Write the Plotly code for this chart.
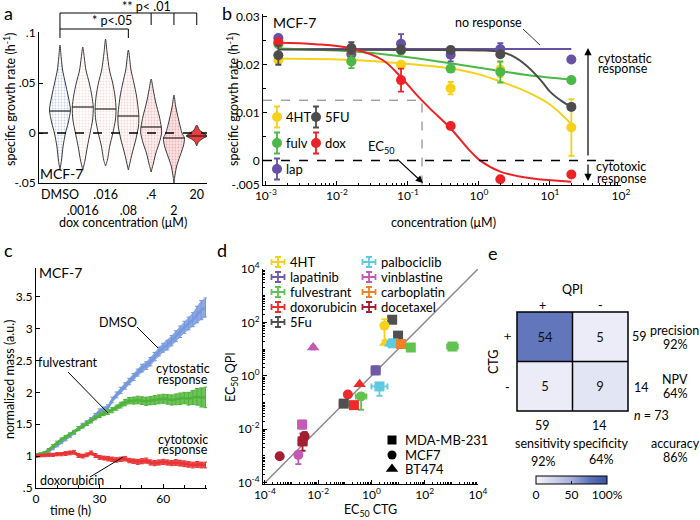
import numpy as np
import plotly.graph_objects as go

W, H = 700, 520
FONT = 'Lato'
FS = 12


def px(x):
    return x / W


def py(y):
    return 1 - y / H


# ======================= DATA =======================
# ---- panel a: violin profiles of growth rate vs dox concentration ----
a_labels = ['DMSO', '.0016', '.016', '.08', '.4', '2', '20']
a_levels = [
    [0.088, 0.075, 0.063, 0.05, 0.037, 0.023, 0.01, 0.0, -0.013, -0.027, -0.037],
    [0.086, 0.075, 0.063, 0.05, 0.037, 0.026, 0.013, 0.0, -0.013, -0.027, -0.037],
    [0.094, 0.08, 0.063, 0.05, 0.037, 0.024, 0.013, 0.0, -0.013, -0.027, -0.033],
    [0.083, 0.063, 0.05, 0.037, 0.025, 0.017, 0.007, -0.007, -0.02, -0.03, -0.037],
    [0.054, 0.043, 0.03, 0.017, 0.006, 0.0, -0.01, -0.02, -0.03, -0.039],
    [0.038, 0.027, 0.013, 0.0, -0.005, -0.013, -0.023, -0.033, -0.042, -0.05],
    [0.008, 0.003, -0.002, -0.003, -0.006, -0.009, -0.013],
]
a_density = [
    [0, 0.12, 0.25, 0.51, 0.78, 1.0, 0.78, 0.53, 0.3, 0.15, 0],
    [0, 0.15, 0.3, 0.62, 0.87, 1.0, 0.94, 0.7, 0.45, 0.22, 0],
    [0, 0.15, 0.37, 0.68, 0.9, 1.0, 0.94, 0.7, 0.4, 0.18, 0],
    [0, 0.25, 0.53, 0.78, 0.93, 1.0, 0.97, 0.7, 0.37, 0.15, 0],
    [0, 0.2, 0.45, 0.77, 0.97, 1.0, 0.77, 0.45, 0.22, 0],
    [0, 0.16, 0.45, 0.77, 1.0, 0.9, 0.58, 0.26, 0.1, 0],
    [0, 0.26, 0.9, 1.0, 0.5, 0.16, 0],
]
a_median = [0.022, 0.026, 0.024, 0.017, 0.006, -0.005, -0.003]

# ---- panel b: dose response (MCF-7) ----
b_conc = [0.0015, 0.016, 0.08, 0.4, 2, 20]
b_4ht = [0.0210, 0.0207, 0.0200, 0.0151, 0.0190, 0.0069]
b_4ht_err = [0.0005, 0.0005, 0.0005, 0.0013, 0.0015, 0.0059]
b_5fu = [0.0220, 0.0235, 0.0232, 0.0231, 0.0222, 0.0112]
b_5fu_err = [0.0020, 0.0012, 0.0008, 0.0006, 0.0005, 0.0005]
b_fulv = [0.0243, 0.0207, 0.0230, 0.0192, 0.0185, 0.0168]
b_fulv_err = [0.0005, 0.0014, 0.0005, 0.0006, 0.0022, 0.0004]
b_dox = [0.0247, 0.0232, 0.0168, 0.0072, -0.0039, -0.0029]
b_dox_err = [0.0006, 0.0005, 0.0024, 0.0004, 0.0003, 0.0003]
b_lap = [0.0256, 0.0222, 0.0244, 0.0221, 0.0233, 0.0211]
b_lap_err = [0.0006, 0.0010, 0.0020, 0.0014, 0.0012, 0.0004]
# fitted curves
fit_4ht_x = [0.0015, 0.016, 0.08, 0.4, 1, 2, 5, 10, 20]
fit_4ht_y = [0.0213, 0.0210, 0.0203, 0.0192, 0.0180, 0.0165, 0.0142, 0.0117, 0.0076]
fit_5fu_x = [0.0015, 0.1, 1, 2, 3, 4.6, 7.4, 10, 15, 20]
fit_5fu_y = [0.0232, 0.0231, 0.0230, 0.0227, 0.0218, 0.0199, 0.0168, 0.0144, 0.0123, 0.0112]
fit_fulv_x = [0.0015, 0.004, 0.016, 0.08, 0.4, 2, 5, 20]
fit_fulv_y = [0.0234, 0.0232, 0.0228, 0.0218, 0.0203, 0.0187, 0.0178, 0.0169]
fit_dox_x = [0.0015, 0.005, 0.016, 0.044, 0.08, 0.133, 0.2, 0.4, 0.7, 1.0, 2, 5.4, 20]
fit_dox_y = [0.0246, 0.0243, 0.0234, 0.0210, 0.0174, 0.0137, 0.0110, 0.0067, 0.0025, 0.0002,
             -0.0023, -0.0037, -0.0044]
fit_lap_x = [0.0015, 20]
fit_lap_y = [0.0233, 0.0233]
b_ec50_conc = 0.158
b_ec50_rate = 0.0126

# ---- panel c: normalized mass vs time ----
c_time = list(range(0, 81, 2))
c_dmso = [1.00, 1.01, 1.04, 1.08, 1.12, 1.17, 1.22, 1.27, 1.32, 1.37, 1.43, 1.48, 1.52, 1.57,
          1.63, 1.70, 1.73, 1.76, 1.88, 1.96, 2.03, 2.10, 2.17, 2.24, 2.31, 2.38, 2.42, 2.48,
          2.56, 2.64, 2.70, 2.74, 2.81, 2.88, 2.95, 3.02, 3.08, 3.14, 3.22, 3.29, 3.33]
c_dmso_err = [0.02, 0.02, 0.02, 0.02, 0.02, 0.025, 0.025, 0.03, 0.03, 0.03, 0.03, 0.035, 0.035,
              0.035, 0.04, 0.04, 0.04, 0.045, 0.045, 0.045, 0.05, 0.05, 0.05, 0.055, 0.055, 0.06,
              0.06, 0.065, 0.065, 0.07, 0.07, 0.075, 0.08, 0.085, 0.09, 0.095, 0.10, 0.11, 0.13,
              0.15, 0.15]
c_fulv = [1.02, 1.03, 1.05, 1.10, 1.16, 1.21, 1.26, 1.30, 1.34, 1.38, 1.43, 1.47, 1.51, 1.55,
          1.60, 1.64, 1.67, 1.69, 1.72, 1.76, 1.80, 1.84, 1.87, 1.87, 1.88, 1.87, 1.86, 1.87,
          1.88, 1.89, 1.90, 1.89, 1.88, 1.89, 1.90, 1.91, 1.90, 1.92, 1.93, 1.92, 1.92]
c_fulv_err = [0.02, 0.02, 0.02, 0.02, 0.02, 0.025, 0.025, 0.025, 0.025, 0.025, 0.03, 0.03, 0.03,
              0.03, 0.03, 0.035, 0.035, 0.035, 0.04, 0.04, 0.045, 0.05, 0.05, 0.055, 0.06, 0.06,
              0.065, 0.065, 0.07, 0.07, 0.07, 0.075, 0.08, 0.085, 0.09, 0.09, 0.10, 0.11, 0.13,
              0.15, 0.16]
c_dox = [1.00, 1.01, 1.01, 1.02, 1.02, 1.03, 1.03, 1.04, 1.05, 1.06, 1.01, 1.00, 1.02, 1.05,
         1.01, 0.98, 0.97, 0.96, 0.95, 0.94, 0.95, 0.96, 0.93, 0.92, 0.91, 0.92, 0.93, 0.90,
         0.89, 0.90, 0.91, 0.90, 0.89, 0.90, 0.89, 0.88, 0.87, 0.86, 0.87, 0.86, 0.86]
c_dox_err = [0.02, 0.02, 0.02, 0.025, 0.025, 0.025, 0.025, 0.03, 0.03, 0.03, 0.03, 0.03, 0.03,
             0.03, 0.03, 0.03, 0.03, 0.035, 0.035, 0.035, 0.035, 0.035, 0.035, 0.035, 0.04,
             0.04, 0.04, 0.04, 0.04, 0.04, 0.04, 0.04, 0.04, 0.045, 0.045, 0.045, 0.045, 0.045,
             0.045, 0.045, 0.045]

# ---- panel d: EC50 QPI vs EC50 CTG ----
d_drug = ['5Fu', '4HT', '4HT', '5Fu', 'palbociclib', 'palbociclib', 'carboplatin', 'fulvestrant',
          'fulvestrant', 'vinblastine', 'lapatinib', 'palbociclib', 'doxorubicin', 'doxorubicin',
          'fulvestrant', 'doxorubicin', '5Fu', 'vinblastine', 'docetaxel', 'docetaxel',
          'docetaxel', 'vinblastine']
d_cell = ['MDA-MB-231', 'MCF7', 'BT474', 'MDA-MB-231', 'BT474', 'MDA-MB-231', 'MDA-MB-231',
          'MDA-MB-231', 'MDA-MB-231', 'BT474', 'MDA-MB-231', 'MDA-MB-231', 'BT474', 'MCF7',
          'MCF7', 'MDA-MB-231', 'MDA-MB-231', 'MDA-MB-231', 'MCF7', 'MDA-MB-231', 'MCF7', 'MCF7']
d_ctg = [6.0, 3.1, 3.3, 10.0, 5.0, 6.5, 13.0, 30.0, 1100.0, 0.0065, 1.44, 2.0, 0.36, 0.13,
         0.41, 0.22, 0.091, 0.0025, 0.0031, 0.0026, 0.00036, 0.0018]
d_qpi = [126.0, 75.0, 17.0, 32.0, 16.0, 16.5, 15.5, 11.5, 12.5, 11.5, 1.6, 0.40, 0.48, 0.20,
         0.17, 0.08, 0.091, 0.015, 0.0055, 0.0035, 0.00098, 0.0011]
d_ex_dec = [0, 0.06, 0, 0.1, 0.1, 0.12, 0.12, 0.1, 0.2, 0.05, 0.15, 0.3, 0, 0, 0.2, 0, 0.15, 0,
            0.1, 0.15, 0, 0]
d_ey_up_dec = [0, 0.25, 0, 0.1, 0.1, 0.1, 0.12, 0.1, 0.1, 0.05, 0.15, 0.1, 0, 0, 0.12, 0, 0.08,
               0.15, 0.15, 0.3, 0, 0.1]
d_ey_dn_dec = [0, 0.55, 0, 0.1, 0.1, 0.1, 0.12, 0.1, 0.1, 0.05, 0.15, 0.35, 0, 0, 0.5, 0, 0.08,
               0.15, 0.15, 0.35, 0, 0.35]

# ---- panel e: confusion matrix (rows CTG +/-, columns QPI +/-) ----
e_labels = ['+', '-']
e_counts = [[54, 5], [5, 9]]

# ======================= STYLES =======================
b_colors = {'4HT': '#f5d11c', '5FU': '#4d4d4d', 'fulv': '#4cb848', 'dox': '#ec2227',
            'lap': '#6651a4'}
d_colors = {'4HT': '#f7d117', 'lapatinib': '#6f5aa8', 'fulvestrant': '#63c14f',
            'doxorubicin': '#ee2a2a', '5Fu': '#505050', 'palbociclib': '#5ccbe2',
            'vinblastine': '#c45ab3', 'carboplatin': '#f48024', 'docetaxel': '#a41e34'}
d_symbols = {'MDA-MB-231': 'square', 'MCF7': 'circle', 'BT474': 'triangle-up'}
a_bg = ['#ffffff', '#ffffff', '#ffffff', '#fffafa', '#fdf0f0', '#fbe4e4', '#ec3d3d']
a_dot = ['#8fa0dc', '#f7c2c2', '#f5b8b8', '#f3adad', '#ef9595', '#eb7878', '#ec3d3d']

fig = go.Figure()

# ---------- axes ----------
base_axis = dict(showline=True, linecolor='black', linewidth=1, ticks='inside', ticklen=4,
                 tickcolor='black', showgrid=False, zeroline=False, mirror=False,
                 automargin=False, tickangle=0,
                 tickfont=dict(family=FONT, size=FS, color='black'))

A_X = (39, 207)
A_Y = (32, 183)
A_RNG = (-0.92, 6.45)
B_X = (263, 621)
B_Y = (14, 184.5)
C_X = (36, 207)
C_Y = (268, 488)
D_X = (263, 478)
D_Y = (269, 484)
E_X = (517, 628)
E_Y = (312, 411)


def dx(r):
    return [px(r[0]), px(r[1])]


def dy(r):
    return [py(r[1]), py(r[0])]


b_major = [1e-3, 1e-2, 1e-1, 1, 10, 100]
b_minor = [m * d for d in b_major[:-1] for m in range(2, 10)]
d_major = [1e-4, 1e-2, 1, 1e2, 1e4]
d_minor = [m * 10.0 ** k for k in range(-4, 4) for m in range(1, 10)
           if not (m == 1 and k % 2 == 0)]

a_ticktext = [lab if i % 2 == 0 else '<br>' + lab for i, lab in enumerate(a_labels)]

hidden = dict(visible=False, automargin=False)
fig.update_layout(
    xaxis=dict(base_axis, domain=dx(A_X), range=list(A_RNG), anchor='y', tickmode='array',
               tickvals=list(range(len(a_labels))), ticktext=a_ticktext, ticks='',
               tickfont=dict(family=FONT, size=12.5, color='black')),
    yaxis=dict(base_axis, domain=dy(A_Y), range=[-0.05, 0.101], anchor='x', tickmode='array',
               tickvals=[-0.05, 0, 0.05, 0.1], ticktext=['-.05', '0', '.05', '.1']),
    xaxis2=dict(base_axis, domain=dx(B_X), type='log', range=[-3.04, 2.0], anchor='y2',
                tickmode='array', tickvals=b_major,
                ticktext=['10<sup>-3</sup>', '10<sup>-2</sup>', '10<sup>-1</sup>',
                          '10<sup>0</sup>', '10<sup>1</sup>', '10<sup>2</sup>'],
                minor=dict(tickvals=b_minor, ticks='inside', ticklen=2, tickcolor='black')),
    yaxis2=dict(base_axis, domain=dy(B_Y), range=[-0.005, 0.0306], anchor='x2',
                tickmode='array', tickvals=[-0.005, 0, 0.01, 0.02, 0.03],
                ticktext=['-.005', '0', '0.01', '0.02', '0.03'],
                minor=dict(tickvals=[0.005, 0.015, 0.025], ticks='inside', ticklen=3,
                           tickcolor='black')),
    xaxis3=dict(base_axis, domain=dx(C_X), range=[0, 80.7], anchor='y3', tickmode='array',
                tickvals=[0, 30, 60],
                minor=dict(tickvals=[10, 20, 40, 50, 70, 80], ticks='inside', ticklen=3,
                           tickcolor='black')),
    yaxis3=dict(base_axis, domain=dy(C_Y), range=[0.5, 3.95], anchor='x3', tickmode='array',
                tickvals=[0.5, 1, 1.5, 2, 2.5, 3, 3.5],
                ticktext=['.5', '1', '1.5', '2', '2.5', '3', '3.5']),
    xaxis4=dict(base_axis, domain=dx(D_X), type='log', range=[-4.07, 4.0], anchor='y4',
                tickmode='array', tickvals=d_major,
                ticktext=['10<sup>-4</sup>', '10<sup>-2</sup>', '10<sup>0</sup>',
                          '10<sup>2</sup>', '10<sup>4</sup>'],
                minor=dict(tickvals=d_minor, ticks='inside', ticklen=2, tickcolor='black')),
    yaxis4=dict(base_axis, domain=dy(D_Y), type='log', range=[-4.05, 4.0], anchor='x4',
                tickmode='array', tickvals=d_major,
                ticktext=['10<sup>-4</sup>', '10<sup>-2</sup>', '10<sup>0</sup>',
                          '10<sup>2</sup>', '10<sup>4</sup>'],
                minor=dict(tickvals=d_minor, ticks='inside', ticklen=2, tickcolor='black')),
    xaxis5=dict(hidden, domain=dx(E_X), range=[-0.5, 1.5], anchor='y5'),
    yaxis5=dict(hidden, domain=dy(E_Y), range=[1.5, -0.5], anchor='x5'),
    xaxis6=dict(hidden, domain=[0, 1], range=[0, 1], anchor='y6'),
    yaxis6=dict(hidden, domain=[0, 1], range=[0, 1], anchor='x6'),
)

# ======================= PANEL A =======================
A_HALF = 0.46
for i in range(len(a_labels)):
    lv = np.array(a_levels[i], dtype=float)
    dn = np.array(a_density[i], dtype=float)
    xs = np.concatenate([i + A_HALF * dn, (i - A_HALF * dn)[::-1]])
    ys = np.concatenate([lv, lv[::-1]])
    fig.add_trace(go.Scatter(
        x=xs, y=ys, xaxis='x', yaxis='y', mode='lines', fill='toself',
        line=dict(color='#3a3a3a', width=1, shape='spline', smoothing=0.7),
        fillcolor=a_bg[i],
        fillpattern=dict(shape='.', bgcolor=a_bg[i], fgcolor=a_dot[i], size=3,
                         solidity=0.3 if i < 6 else 1.0),
        hoverinfo='skip', showlegend=False))
    half = A_HALF * np.interp(a_median[i], lv[::-1], dn[::-1])
    fig.add_trace(go.Scatter(x=[i - half, i + half], y=[a_median[i]] * 2, xaxis='x', yaxis='y',
                             mode='lines', line=dict(color='#222', width=1.2),
                             hoverinfo='skip', showlegend=False))


def a_paper_x(i):
    return px(A_X[0]) + (i - A_RNG[0]) / (A_RNG[1] - A_RNG[0]) * (px(A_X[1]) - px(A_X[0]))


shapes = []
annotations = []


def line(x0, y0, x1, y1, color='black', width=1, dash='solid'):
    shapes.append(dict(type='line', xref='paper', yref='paper', x0=x0, y0=y0, x1=x1, y1=y1,
                       line=dict(color=color, width=width, dash=dash)))


def text(x, y, s, size=FS, angle=0, xanchor='center', color='black'):
    annotations.append(dict(x=px(x), y=py(y), xref='paper', yref='paper', text=s,
                            showarrow=False, textangle=angle, xanchor=xanchor,
                            yanchor='middle', font=dict(family=FONT, size=size, color=color)))


shapes.append(dict(type='line', xref='x domain', yref='y', x0=0, x1=1, y0=0, y1=0,
                   line=dict(color='black', width=1.5, dash='dash')))

# significance brackets
xd, x08, x04, x2, x20 = [a_paper_x(i) for i in (0, 3, 4, 5, 6)]
line(xd, py(13), x20, py(13))
for xx in (x04, x2, x20):
    line(xx, py(13), xx, py(25))
line(xd, py(13), xd, py(38))
line(xd, py(29), x08, py(29))
line(x08, py(29), x08, py(38))
text(146, 7, '** p< .01', size=12.5)
text(112, 21, '* p<.05', size=12.5)
text(61, 174, 'MCF-7', size=14)
text(123, 222, 'dox concentration (μM)', size=12.5)
text(10, 100, 'specific growth rate (h<sup>-1</sup>)', angle=-90, size=12.5)

# ======================= PANEL B =======================
fits = [(fit_4ht_x, fit_4ht_y, '4HT'), (fit_lap_x, fit_lap_y, 'lap'),
        (fit_fulv_x, fit_fulv_y, 'fulv'), (fit_5fu_x, fit_5fu_y, '5FU'),
        (fit_dox_x, fit_dox_y, 'dox')]
for fx, fy, k in fits:
    fig.add_trace(go.Scatter(x=fx, y=fy, xaxis='x2', yaxis='y2', mode='lines',
                             line=dict(color=b_colors[k], width=2, shape='spline', smoothing=1.0),
                             hoverinfo='skip', showlegend=False))

shapes.append(dict(type='line', xref='x2 domain', yref='y2', x0=0, x1=1, y0=0, y1=0,
                   line=dict(color='black', width=1.5, dash='dash')))
shapes.append(dict(type='line', xref='x2 domain', yref='y2', x0=0,
                   x1=(np.log10(b_ec50_conc) + 3.04) / 5.04,
                   y0=b_ec50_rate, y1=b_ec50_rate, line=dict(color='#777', width=1, dash='dash')))
shapes.append(dict(type='line', xref='x2', yref='y2 domain', x0=b_ec50_conc, x1=b_ec50_conc,
                   y0=0, y1=(b_ec50_rate + 0.005) / 0.0356,
                   line=dict(color='#777', width=1, dash='dash')))

series = [(b_4ht, b_4ht_err, '4HT'), (b_lap, b_lap_err, 'lap'), (b_fulv, b_fulv_err, 'fulv'),
          (b_dox, b_dox_err, 'dox'), (b_5fu, b_5fu_err, '5FU')]
for ys, es, k in series:
    fig.add_trace(go.Scatter(x=b_conc, y=ys, xaxis='x2', yaxis='y2', mode='markers',
                             marker=dict(color=b_colors[k], size=10),
                             error_y=dict(type='data', array=es, color=b_colors[k],
                                          thickness=1.8, width=3),
                             hoverinfo='skip', showlegend=False))

# legend glyphs (panel b)
b_leg = [('4HT', 277, 117), ('5FU', 316, 117), ('fulv', 277, 143), ('dox', 316, 143),
         ('lap', 277, 169)]
for k, lx, ly in b_leg:
    fig.add_trace(go.Scatter(x=[px(lx)], y=[py(ly)], xaxis='x6', yaxis='y6', mode='markers',
                             marker=dict(color=b_colors[k], size=10),
                             error_y=dict(type='data', array=[10.5 / H], color=b_colors[k],
                                          thickness=1.8, width=3),
                             hoverinfo='skip', showlegend=False))
    text(lx + 7, ly, k, xanchor='left', size=13)

text(294, 23, 'MCF-7', size=14)
text(488, 23, 'no response', size=12.5)
line(px(523), py(29), px(540), py(45), width=0.8)
text(625, 58, 'cytostatic', size=12.5)
text(623, 69, 'response', size=12.5)
text(621, 167, 'cytotoxic', size=12.5)
text(622, 178, 'response', size=12.5)
text(381, 147, 'EC<sub>50</sub>', size=13)
text(443, 222, 'concentration (μM)', size=12.5)
text(233, 100, 'specific growth rate (h<sup>-1</sup>)', angle=-90, size=12.5)
for hx, hy, tx, ty in [(588, 48, 588, 157), (588, 181, 588, 163), (423, 183, 396, 158)]:
    annotations.append(dict(x=px(hx), y=py(hy), xref='paper', yref='paper', text='',
                            showarrow=True, ax=tx - hx, ay=ty - hy, axref='pixel',
                            ayref='pixel', arrowhead=2, arrowsize=1.2, arrowwidth=1.2,
                            arrowcolor='black'))

# ======================= PANEL C =======================
c_series = [(c_dmso, c_dmso_err, '#8eaae4', '#7598dc'), (c_fulv, c_fulv_err, '#6cc458', '#4fb23c'),
            (c_dox, c_dox_err, '#f05656', '#e83434')]
for ys, es, fc, lc in c_series:
    ys = np.array(ys)
    es = np.array(es)
    t = np.array(c_time)
    fig.add_trace(go.Scatter(x=np.concatenate([t, t[::-1]]),
                             y=np.concatenate([ys + es, (ys - es)[::-1]]),
                             xaxis='x3', yaxis='y3', mode='lines', fill='toself',
                             fillcolor=fc, line=dict(width=0), hoverinfo='skip',
                             showlegend=False))
    fig.add_trace(go.Scatter(x=t, y=ys, xaxis='x3', yaxis='y3', mode='lines',
                             line=dict(color=lc, width=2.5),
                             error_y=dict(type='data', array=es, color=lc, thickness=1, width=2),
                             hoverinfo='skip', showlegend=False))

text(60, 272, 'MCF-7', size=14)
text(118, 322, 'DMSO', size=12.5)
line(px(137), py(327), px(158), py(348))
text(68, 362, 'fulvestrant', size=12.5)
line(px(68), py(372), px(108), py(413))
text(183, 368, 'cytostatic', size=12.5)
text(183, 379, 'response', size=12.5)
text(183, 439, 'cytotoxic', size=12.5)
text(183, 449, 'response', size=12.5)
text(72, 480, 'doxorubicin', size=12.5)
line(px(90), py(477), px(123), py(457))
text(70, 510, 'time (h)', size=12.5)
text(9, 380, 'normalized mass (a.u.)', angle=-90, size=12.5)

# ======================= PANEL D =======================
fig.add_trace(go.Scatter(x=[1e-4, 1e4], y=[1e-4, 1e4], xaxis='x4', yaxis='y4', mode='lines',
                         line=dict(color='#8a8a8a', width=1.5), hoverinfo='skip',
                         showlegend=False))
for i in range(len(d_drug)):
    xv, yv = d_ctg[i], d_qpi[i]
    col = d_colors[d_drug[i]]
    ex = d_ex_dec[i]
    eu, ed = d_ey_up_dec[i], d_ey_dn_dec[i]
    fig.add_trace(go.Scatter(
        x=[xv], y=[yv], xaxis='x4', yaxis='y4', mode='markers',
        marker=dict(color=col, size=10 if d_cell[i] != 'BT474' else 11,
                    symbol=d_symbols[d_cell[i]]),
        error_x=dict(type='data', symmetric=False, array=[xv * (10 ** ex - 1)],
                     arrayminus=[xv * (1 - 10 ** -ex)], color=col, thickness=1.8, width=3,
                     visible=ex > 0),
        error_y=dict(type='data', symmetric=False, array=[yv * (10 ** eu - 1)],
                     arrayminus=[yv * (1 - 10 ** -ed)], color=col, thickness=1.8, width=3,
                     visible=(eu + ed) > 0),
        hoverinfo='skip', showlegend=False))

d_leg = [('4HT', 278, 262), ('lapatinib', 278, 277), ('fulvestrant', 278, 292),
         ('doxorubicin', 278, 307), ('5Fu', 278, 322), ('palbociclib', 369, 262),
         ('vinblastine', 369, 277), ('carboplatin', 369, 292), ('docetaxel', 369, 307)]
for k, lx, ly in d_leg:
    col = d_colors[k]
    fig.add_trace(go.Scatter(x=[px(lx)], y=[py(ly)], xaxis='x6', yaxis='y6', mode='markers',
                             marker=dict(color=col, size=1, opacity=0),
                             error_x=dict(type='data', array=[6.5 / W], color=col,
                                          thickness=1.8, width=3),
                             error_y=dict(type='data', array=[5 / H], color=col,
                                          thickness=1.8, width=3),
                             hoverinfo='skip', showlegend=False))
    text(lx + 10, ly, k, xanchor='left', size=13)

for cell, ly in [('MDA-MB-231', 440), ('MCF7', 455), ('BT474', 469)]:
    fig.add_trace(go.Scatter(x=[px(392)], y=[py(ly)], xaxis='x6', yaxis='y6', mode='markers',
                             marker=dict(color='black', size=9 if cell != 'BT474' else 11,
                                         symbol=d_symbols[cell]),
                             hoverinfo='skip', showlegend=False))
    text(403, ly, cell, xanchor='left', size=13)

text(370, 510, 'EC<sub>50</sub> CTG', size=12.5)
text(231, 377, 'EC<sub>50</sub> QPI', angle=-90, size=12.5)

# ======================= PANEL E =======================
e_total = sum(sum(r) for r in e_counts)
e_z = [[100.0 * c / e_total for c in row] for row in e_counts]
fig.add_trace(go.Heatmap(
    z=e_z, x=[0, 1], y=[0, 1], xaxis='x5', yaxis='y5', text=e_counts, texttemplate='%{text}',
    textfont=dict(family=FONT, size=13, color='#111'), zmin=0, zmax=100,
    colorscale=[[0, '#f6f6fb'], [0.5, '#a4b0dc'], [0.75, '#5f74ba'], [1, '#3d53a3']],
    hoverinfo='skip',
    colorbar=dict(orientation='h', x=px(571.5), xanchor='center', y=py(476), yanchor='top',
                  len=71, lenmode='pixels', thickness=8, xpad=0, ypad=0,
                  outlinecolor='black', outlinewidth=1, tickmode='array',
                  tickvals=[0, 50, 100], ticktext=['0', '50', '100%'], ticks='inside',
                  ticklen=3, tickcolor='black',
                  tickfont=dict(family=FONT, size=FS, color='black'))))
for s in [dict(x0=0, x1=1, y0=0, y1=1, type='rect'),
          dict(x0=0.5, x1=0.5, y0=0, y1=1, type='line'),
          dict(x0=0, x1=1, y0=0.5, y1=0.5, type='line')]:
    shapes.append(dict(s, xref='x5 domain', yref='y5 domain', line=dict(color='black', width=1.5)))

row_sum = [sum(r) for r in e_counts]
col_sum = [e_counts[0][j] + e_counts[1][j] for j in range(2)]
precision = e_counts[0][0] / row_sum[0]
npv = e_counts[1][1] / row_sum[1]
sensitivity = e_counts[0][0] / col_sum[0]
specificity = e_counts[1][1] / col_sum[1]
accuracy = (e_counts[0][0] + e_counts[1][1]) / e_total

text(572, 289, 'QPI', size=12.5)
text(542, 305, e_labels[0], size=12.5)
text(600, 305, e_labels[1], size=12.5)
text(493, 362, 'CTG', angle=-90, size=12.5)
text(507, 337, e_labels[0], angle=-90, size=12.5)
text(507, 387, e_labels[1], size=12.5)
text(639, 336, str(row_sum[0]), size=12.5)
text(641, 387, str(row_sum[1]), size=12.5)
text(674, 330, 'precision', size=12.5)
text(675, 344, f'{precision:.0%}', size=12.5)
text(675, 379, 'NPV', size=12.5)
text(675, 393, f'{npv:.0%}', size=12.5)
text(542, 425, str(col_sum[0]), size=12.5)
text(599, 425, str(col_sum[1]), size=12.5)
annotations.append(dict(x=px(671), y=py(425), xref='paper', yref='paper',
                        text=f'<i>n</i> = {e_total}', showarrow=False,
                        font=dict(family=FONT, size=12.5, color='black')))
text(543, 443, 'sensitivity', size=12.5)
text(601, 443, 'specificity', size=12.5)
text(675, 443, 'accuracy', size=12.5)
text(543, 461, f'{sensitivity:.0%}', size=12.5)
text(601, 459, f'{specificity:.0%}', size=12.5)
text(675, 457, f'{accuracy:.0%}', size=12.5)

# panel letters
for lab, lx, ly in [('a', 8, 13), ('b', 227, 13), ('c', 8, 250), ('d', 222, 250), ('e', 493, 253)]:
    text(lx, ly, lab, size=18)

fig.update_layout(width=W, height=H, margin=dict(l=0, r=0, t=0, b=0, autoexpand=False),
                  paper_bgcolor='white', plot_bgcolor='rgba(0,0,0,0)',
                  font=dict(family=FONT, size=FS, color='black'),
                  shapes=shapes, annotations=annotations, showlegend=False)

fig.write_html('out.html', config={'displayModeBar': False},
               post_script="document.body.style.margin='0px';")
